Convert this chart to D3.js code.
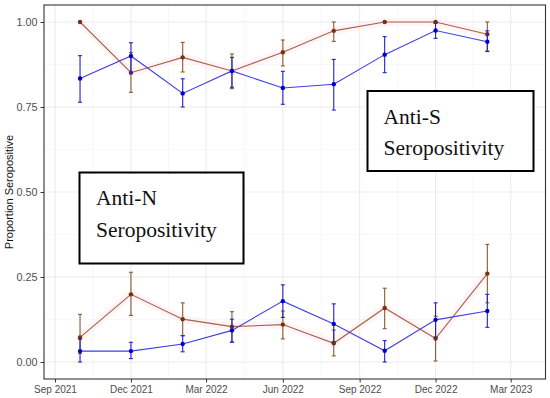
<!DOCTYPE html>
<html><head><meta charset="utf-8">
<script src="https://cdn.jsdelivr.net/npm/d3@7"></script>
<style>html,body{margin:0;padding:0;background:#fff;}svg{display:block;}</style>
</head><body>
<svg id="chart" width="550" height="398"></svg>
<script>
const dates = ["2021-10-01","2021-12-01","2022-02-01","2022-04-01","2022-06-01","2022-08-01","2022-10-01","2022-12-01","2023-02-01"];
const xTickLabels = ["Sep 2021","Dec 2021","Mar 2022","Jun 2022","Sep 2022","Dec 2022","Mar 2023"];
const xTickDates = ["2021-09-01","2021-12-01","2022-03-01","2022-06-01","2022-09-01","2022-12-01","2023-03-01"];
const yTicks = [0, 0.25, 0.5, 0.75, 1.0];
const yTickLabels = ["0.00","0.25","0.50","0.75","1.00"];

// Anti-S, brown series
const sBrown   = [1.00, 0.851, 0.896, 0.856, 0.911, 0.974, 1.00, 1.00, 0.964];
const sBrownLo = [1.00, 0.793, 0.853, 0.804, 0.871, 0.943, 1.00, 1.00, 0.915];
const sBrownHi = [1.00, 0.910, 0.940, 0.906, 0.947, 1.00, 1.00, 1.00, 1.00];
// Anti-S, blue series
const sBlue   = [0.834, 0.900, 0.790, 0.856, 0.806, 0.817, 0.904, 0.975, 0.942];
const sBlueLo = [0.764, 0.850, 0.750, 0.808, 0.758, 0.741, 0.851, 0.952, 0.913];
const sBlueHi = [0.901, 0.939, 0.833, 0.896, 0.855, 0.890, 0.957, 0.996, 0.974];
// Anti-N, brown series
const nBrown   = [0.0725, 0.199, 0.126, 0.104, 0.110, 0.055, 0.159, 0.069, 0.260];
const nBrownLo = [0.025, 0.137, 0.078, 0.059, 0.068, 0.018, 0.098, 0.003, 0.174];
const nBrownHi = [0.140, 0.264, 0.174, 0.148, 0.150, 0.094, 0.217, 0.135, 0.346];
// Anti-N, blue series
const nBlue   = [0.032, 0.032, 0.053, 0.093, 0.179, 0.112, 0.033, 0.124, 0.150];
const nBlueLo = [0.000, 0.010, 0.030, 0.058, 0.131, 0.060, 0.000, 0.073, 0.102];
const nBlueHi = [0.067, 0.058, 0.077, 0.126, 0.227, 0.171, 0.063, 0.174, 0.199];

const parse = d3.timeParse("%Y-%m-%d");
const svg = d3.select("#chart");
const L = 44, R = 545.5, T = 5, B = 379;

const x = d3.scaleTime().domain([parse("2021-09-01"), parse("2023-03-01")]).range([55, 510.7]);
const y = d3.scaleLinear().domain([-0.05, 1.05]).range([B, T]);

// grid
const g = svg.append("g");
const xMinor = [];
for (let i = 0; i < xTickDates.length - 1; i++) {
  const a = parse(xTickDates[i]).getTime(), b = parse(xTickDates[i+1]).getTime();
  xMinor.push(new Date((a + b) / 2));
}
const yMinor = [0.125, 0.375, 0.625, 0.875];
g.selectAll(".ymin").data(yMinor).join("line")
  .attr("x1", L).attr("x2", R).attr("y1", d => y(d)).attr("y2", d => y(d))
  .attr("stroke", "#f4f4f4").attr("stroke-width", 0.7);
g.selectAll(".xmin").data(xMinor).join("line")
  .attr("x1", d => x(d)).attr("x2", d => x(d)).attr("y1", T).attr("y2", B)
  .attr("stroke", "#f4f4f4").attr("stroke-width", 0.7);
g.selectAll(".ymaj").data(yTicks).join("line")
  .attr("x1", L).attr("x2", R).attr("y1", d => y(d)).attr("y2", d => y(d))
  .attr("stroke", "#ebebeb").attr("stroke-width", 1.1);
g.selectAll(".xmaj").data(xTickDates).join("line")
  .attr("x1", d => x(parse(d))).attr("x2", d => x(parse(d))).attr("y1", T).attr("y2", B)
  .attr("stroke", "#ebebeb").attr("stroke-width", 1.1);

// axes
const yAxis = d3.axisLeft(y).tickValues(yTicks).tickFormat((d, i) => yTickLabels[i]).tickSize(3.5).tickPadding(3);
const ya = svg.append("g").attr("transform", `translate(${L},0)`).call(yAxis);
ya.select(".domain").remove();
ya.selectAll("line").attr("stroke", "#333");
ya.selectAll("text").attr("fill", "#4d4d4d").style("font-family", "Liberation Sans, Arial, sans-serif").style("font-size", "10.8px");

const xAxis = d3.axisBottom(x).tickValues(xTickDates.map(parse)).tickFormat((d, i) => xTickLabels[i]).tickSize(3.5).tickPadding(3);
const xa = svg.append("g").attr("transform", `translate(0,${B})`).call(xAxis);
xa.select(".domain").remove();
xa.selectAll("line").attr("stroke", "#333");
xa.selectAll("text").attr("fill", "#4d4d4d").style("font-family", "Liberation Sans, Arial, sans-serif").style("font-size", "10px");

svg.append("text").attr("transform", `translate(13,${(T+B)/2}) rotate(-90)`)
  .attr("text-anchor", "middle").attr("fill", "#111")
  .style("font-family", "Liberation Sans, Arial, sans-serif").style("font-size", "11px")
  .text("Proportion Seropositive");

// series
function series(vals, lo, hi, lineColor, barColor, ptColor, glow) {
  const data = dates.map((d, i) => ({ d: parse(d), v: vals[i], lo: lo[i], hi: hi[i] }));
  const line = d3.line().x(p => x(p.d)).y(p => y(p.v));
  const gg = svg.append("g");
  if (glow) {
    gg.append("path").datum(data).attr("d", line).attr("fill", "none")
      .attr("stroke", "#ffeaf5").attr("stroke-width", 8).attr("opacity", 0.5);
  }
  gg.append("path").datum(data).attr("d", line).attr("fill", "none")
    .attr("stroke", lineColor).attr("stroke-width", 1.1);
  const eb = gg.selectAll(".eb").data(data).join("g");
  eb.append("line").attr("x1", p => x(p.d)).attr("x2", p => x(p.d))
    .attr("y1", p => y(p.lo)).attr("y2", p => y(p.hi)).attr("stroke", barColor).attr("stroke-width", 1.1);
  eb.append("line").attr("x1", p => x(p.d) - 2).attr("x2", p => x(p.d) + 2)
    .attr("y1", p => y(p.lo)).attr("y2", p => y(p.lo)).attr("stroke", barColor).attr("stroke-width", 1.1);
  eb.append("line").attr("x1", p => x(p.d) - 2).attr("x2", p => x(p.d) + 2)
    .attr("y1", p => y(p.hi)).attr("y2", p => y(p.hi)).attr("stroke", barColor).attr("stroke-width", 1.1);
  gg.selectAll("circle").data(data).join("circle")
    .attr("cx", p => x(p.d)).attr("cy", p => y(p.v)).attr("r", 2.2).attr("fill", ptColor);
}
series(sBrown, sBrownLo, sBrownHi, "#a8623e", "#8b5a2b", "#7a2e12", true);
series(nBrown, nBrownLo, nBrownHi, "#a8623e", "#8b5a2b", "#7a2e12", true);
series(sBlue, sBlueLo, sBlueHi, "#4040e0", "#2020d0", "#0000cc", false);
series(nBlue, nBlueLo, nBlueHi, "#4040e0", "#2020d0", "#0000cc", false);

// panel border
svg.append("rect").attr("x", L).attr("y", T).attr("width", R - L).attr("height", B - T)
  .attr("fill", "none").attr("stroke", "#333").attr("stroke-width", 1.1);

// annotation boxes
function box(x0, y0, w, h, lines, tx, ty, dy) {
  svg.append("rect").attr("x", x0).attr("y", y0).attr("width", w).attr("height", h)
    .attr("fill", "#fff").attr("stroke", "#000").attr("stroke-width", 2);
  lines.forEach((t, i) => {
    svg.append("text").attr("x", tx).attr("y", ty + i * dy).attr("fill", "#111")
      .style("font-family", "'Liberation Serif', 'Times New Roman', serif").style("font-size", "21.5px")
      .text(t);
  });
}
box(79.5, 172.5, 164, 91, ["Anti-N", "Seropositivity"], 96, 205, 31.5);
box(367.5, 91, 166, 80, ["Anti-S", "Seropositivity"], 383.5, 124, 31);
</script>
</body></html>
